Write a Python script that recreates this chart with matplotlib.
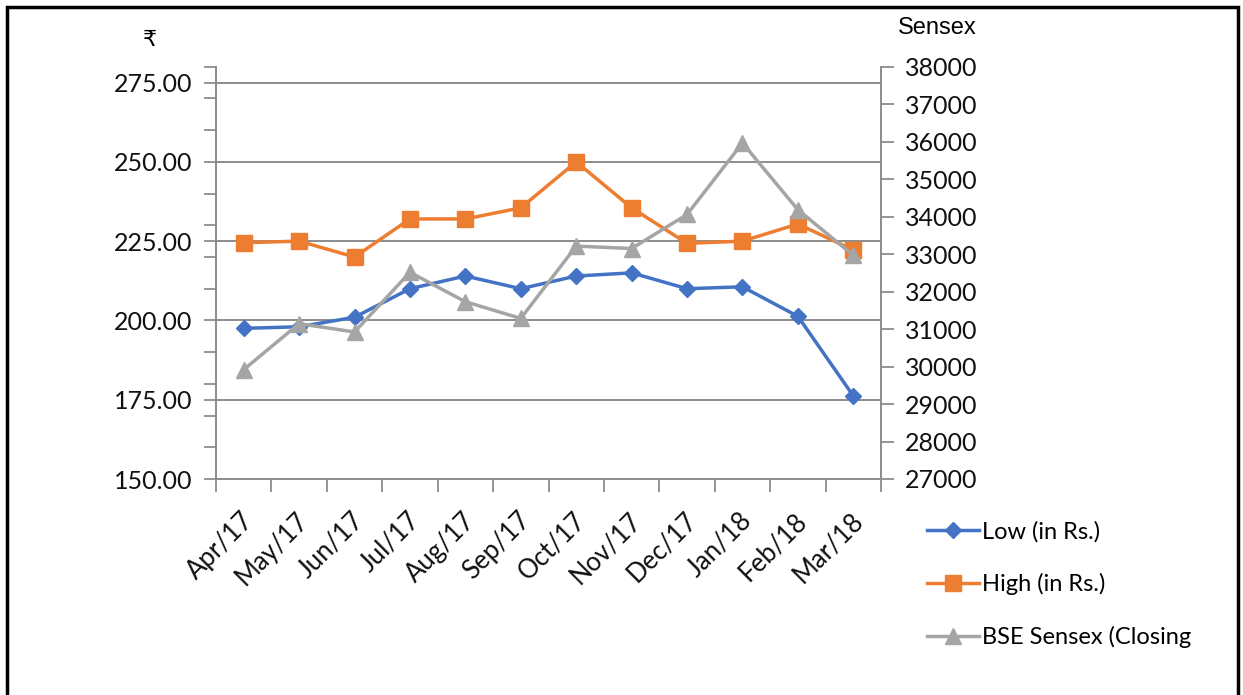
import numpy as np
import matplotlib
matplotlib.use('Agg')
import matplotlib.pyplot as plt
from matplotlib.patches import Rectangle
from matplotlib.ticker import FixedLocator, FuncFormatter

months = ['Apr/17', 'May/17', 'Jun/17', 'Jul/17', 'Aug/17', 'Sep/17',
          'Oct/17', 'Nov/17', 'Dec/17', 'Jan/18', 'Feb/18', 'Mar/18']
low = [197.5, 198.0, 201.0, 210.0, 214.0, 210.0, 214.0, 215.0, 210.0, 210.6, 201.3, 176.2]
high = [224.5, 225.0, 220.0, 232.0, 232.0, 235.5, 250.0, 235.5, 224.3, 225.0, 230.4, 222.2]
sensex = [29918, 31145, 30922, 32515, 31730, 31284, 33213, 33149, 34057, 35965, 34184, 32969]

BLUE = '#4472C4'
ORANGE = '#ED7D31'
GREY = '#A5A5A5'
AXIS = '#8C8C8C'
FONT = 'Lato'

W, H = 1243, 695
fig = plt.figure(figsize=(W / 100, H / 100), dpi=100)
ax = fig.add_axes([216 / W, 1 - 479 / H, (881 - 216) / W, (479 - 66.7) / H])
ax2 = ax.twinx()

x = np.arange(len(months))

ax.plot(x, high, color=ORANGE, lw=2.5, marker='s', ms=11, zorder=3, label='High (in Rs.)')
ax.plot(x, low, color=BLUE, lw=2.5, marker='D', ms=8, zorder=4, label='Low (in Rs.)')
ax2.plot(x, sensex, color=GREY, lw=2.5, marker='^', ms=11, zorder=3, label='BSE Sensex (Closing')

# left axis
ax.set_xlim(-0.5, len(months) - 0.5)
ax.set_ylim(150, 280)
ax.set_yticks(np.arange(150, 276, 25))
ax.yaxis.set_major_formatter(FuncFormatter(lambda v, p: '%.2f' % v))
ax.yaxis.set_minor_locator(FixedLocator(np.arange(150, 281, 10)))
ax.tick_params(axis='y', which='both', direction='out', length=9, width=1.3, color=AXIS,
               labelsize=18, pad=8)
ax.grid(axis='y', which='major', color=AXIS, lw=1.4)
ax.set_axisbelow(True)

# x axis
ax.set_xticks(x + 0.1)
ax.set_xticklabels(months, rotation=45, ha='right', va='center', rotation_mode='anchor')
ax.xaxis.set_minor_locator(FixedLocator(np.arange(-0.5, len(months), 1)))
ax.tick_params(axis='x', which='major', length=0, labelsize=18.5, pad=27)
ax.tick_params(axis='x', which='minor', direction='out', length=9, width=1.3, color=AXIS)

for lab in ax.get_xticklabels() + ax.get_yticklabels():
    lab.set_fontfamily(FONT)
    lab.set_color('#111111')

# right axis
ax2.set_ylim(27000, 38000)
ax2.set_yticks(np.arange(27000, 38001, 1000))
ax2.tick_params(axis='y', direction='out', length=9, width=1.3, color=AXIS, labelsize=18, pad=8)
for lab in ax2.get_yticklabels():
    lab.set_fontfamily(FONT)
    lab.set_color('#111111')

for a in (ax, ax2):
    a.spines['top'].set_visible(False)
    for s in ('left', 'right', 'bottom'):
        a.spines[s].set_color(AXIS)
        a.spines[s].set_linewidth(1.4)
ax.spines['right'].set_visible(False)
ax2.spines['left'].set_visible(False)
ax2.spines['bottom'].set_visible(False)

fig.text(150 / W, 1 - 40 / H, '\u20b9', fontsize=16, ha='center', va='center',
         family=['Liberation Sans', 'DejaVu Sans'])
fig.text(937 / W, 1 - 28 / H, 'Sensex', fontsize=17, ha='center', va='center',
         family='Liberation Sans')

# legend
h1, l1 = ax.get_legend_handles_labels()
h2, l2 = ax2.get_legend_handles_labels()
handles = [h1[1], h1[0], h2[0]]
labels = [l1[1], l1[0], l2[0]]
fig.legend(handles, labels, loc='upper left', bbox_to_anchor=(927 / W, 1 - 521 / H),
           frameon=False, prop={'family': FONT, 'size': 17}, handlelength=2.2,
           handletextpad=0.15, labelspacing=1.3, borderpad=0, borderaxespad=0)

fig.patches.append(Rectangle((7 / W, -0.02), (1238 - 7) / W, 1.02 - 7 / H,
                             transform=fig.transFigure, fill=False, edgecolor='black',
                             lw=2.5, clip_on=False))

fig.savefig('out.png', dpi=100)
